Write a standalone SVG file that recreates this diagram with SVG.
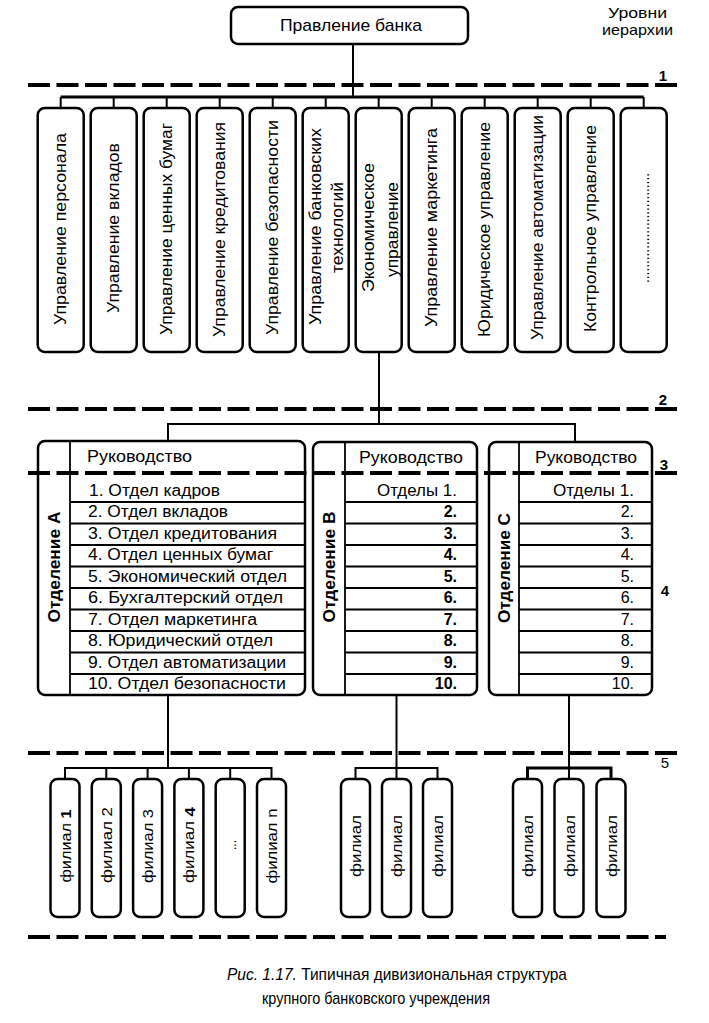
<svg xmlns="http://www.w3.org/2000/svg" width="709" height="1023" viewBox="0 0 709 1023">
<style>
.box{fill:#fff;stroke:#000;stroke-width:2.5}
.ln{stroke:#000;stroke-width:2;fill:none}
.bus{stroke:#000;stroke-width:3;fill:none}
.row{stroke:#000;stroke-width:1.8;fill:none}
.dash{stroke:#000;stroke-width:4;stroke-dasharray:22 6.5;fill:none}
text{font-family:"Liberation Sans",Arial,sans-serif;fill:#000}
.v{font-size:17px;text-anchor:middle;dominant-baseline:central}
.f{font-size:15px;text-anchor:middle;dominant-baseline:central}
.r{font-size:16px}
.e{font-size:16px;text-anchor:end}
.b{font-weight:bold}
.lvl{font-size:15px;font-weight:bold;text-anchor:middle}
</style>
<rect width="709" height="1023" fill="#fff"/>

<!-- nodes -->
<g id="board"><rect class="box" x="231" y="7" width="237" height="37" rx="7"/><text x="351" y="31" font-size="17" text-anchor="middle" textLength="142" lengthAdjust="spacingAndGlyphs">Правление банка</text></g>

<g id="d1"><rect class="box" x="37.7" y="108" width="46" height="244" rx="7"/><text class="v" transform="translate(60.7,229) rotate(-90)" textLength="192" lengthAdjust="spacingAndGlyphs">Управление персонала</text></g>
<g id="d2"><rect class="box" x="90.7" y="108" width="46" height="244" rx="7"/><text class="v" transform="translate(113.7,228) rotate(-90)" textLength="170" lengthAdjust="spacingAndGlyphs">Управление вкладов</text></g>
<g id="d3"><rect class="box" x="143.7" y="108" width="46" height="244" rx="7"/><text class="v" transform="translate(166.7,229) rotate(-90)" textLength="212" lengthAdjust="spacingAndGlyphs">Управление ценных бумаг</text></g>
<g id="d4"><rect class="box" x="196.7" y="108" width="46" height="244" rx="7"/><text class="v" transform="translate(219.7,229.5) rotate(-90)" textLength="215" lengthAdjust="spacingAndGlyphs">Управление кредитования</text></g>
<g id="d5"><rect class="box" x="249.7" y="108" width="46" height="244" rx="7"/><text class="v" transform="translate(272.7,227.5) rotate(-90)" textLength="215" lengthAdjust="spacingAndGlyphs">Управление безопасности</text></g>
<g id="d6"><rect class="box" x="302.7" y="108" width="46" height="244" rx="7"/><text class="v" transform="translate(315,226.5) rotate(-90)" textLength="197" lengthAdjust="spacingAndGlyphs">Управление банковских</text><text class="v" transform="translate(337.5,227.5) rotate(-90)" textLength="91" lengthAdjust="spacingAndGlyphs">технологий</text></g>
<g id="d7"><rect class="box" x="355.7" y="108" width="46" height="244" rx="7"/><text class="v" transform="translate(368,227.5) rotate(-90)" textLength="129" lengthAdjust="spacingAndGlyphs">Экономическое</text><text class="v" transform="translate(392.5,229.5) rotate(-90)" textLength="95" lengthAdjust="spacingAndGlyphs">управление</text></g>
<g id="d8"><rect class="box" x="408.7" y="108" width="46" height="244" rx="7"/><text class="v" transform="translate(431.7,227.5) rotate(-90)" textLength="199" lengthAdjust="spacingAndGlyphs">Управление маркетинга</text></g>
<g id="d9"><rect class="box" x="461.7" y="108" width="46" height="244" rx="7"/><text class="v" transform="translate(484.7,229.5) rotate(-90)" textLength="215" lengthAdjust="spacingAndGlyphs">Юридическое управление</text></g>
<g id="d10"><rect class="box" x="514.7" y="108" width="46" height="244" rx="7"/><text class="v" transform="translate(537.7,227.5) rotate(-90)" textLength="225" lengthAdjust="spacingAndGlyphs">Управление автоматизации</text></g>
<g id="d11"><rect class="box" x="567.7" y="108" width="46" height="244" rx="7"/><text class="v" transform="translate(590.7,228.5) rotate(-90)" textLength="207" lengthAdjust="spacingAndGlyphs">Контрольное управление</text></g>
<g id="d12"><rect class="box" x="620.7" y="108" width="46" height="244" rx="7"/><text class="v" transform="translate(643.7,228) rotate(-90)" textLength="110" lengthAdjust="spacingAndGlyphs">.............................</text></g>

<g id="divA">
<rect class="box" x="38" y="441" width="267" height="254" rx="7"/>
<line class="row" x1="70" y1="441" x2="70" y2="695"/>
<path class="row" d="M70 502H305M70 523.5H305M70 545H305M70 566.5H305M70 588H305M70 609.5H305M70 631H305M70 652.5H305M70 674H305"/>
<text class="v b" font-size="15" transform="translate(54,567) rotate(-90)" textLength="111" lengthAdjust="spacingAndGlyphs">Отделение А</text>
<text class="r" x="87" y="462" textLength="105" lengthAdjust="spacingAndGlyphs">Руководство</text>
<text class="r" x="89" y="496" textLength="131" lengthAdjust="spacingAndGlyphs">1. Отдел кадров</text>
<text class="r" x="88" y="517" textLength="140" lengthAdjust="spacingAndGlyphs">2. Отдел вкладов</text>
<text class="r" x="88" y="538.5" textLength="189" lengthAdjust="spacingAndGlyphs">3. Отдел кредитования</text>
<text class="r" x="88" y="560" textLength="185" lengthAdjust="spacingAndGlyphs">4. Отдел ценных бумаг</text>
<text class="r" x="88" y="581.5" textLength="199" lengthAdjust="spacingAndGlyphs">5. Экономический отдел</text>
<text class="r" x="88" y="603" textLength="195" lengthAdjust="spacingAndGlyphs">6. Бухгалтерский отдел</text>
<text class="r" x="88" y="624.5" textLength="169" lengthAdjust="spacingAndGlyphs">7. Отдел маркетинга</text>
<text class="r" x="88" y="646" textLength="185" lengthAdjust="spacingAndGlyphs">8. Юридический отдел</text>
<text class="r" x="88" y="667.5" textLength="198" lengthAdjust="spacingAndGlyphs">9. Отдел автоматизации</text>
<text class="r" x="88" y="689" textLength="198" lengthAdjust="spacingAndGlyphs">10. Отдел безопасности</text>
</g>

<g id="divB">
<rect class="box" x="313" y="442" width="164" height="253" rx="7"/>
<line class="row" x1="345" y1="442" x2="345" y2="695"/>
<path class="row" d="M345 502H477M345 523.5H477M345 545H477M345 566.5H477M345 588H477M345 609.5H477M345 631H477M345 652.5H477M345 674H477"/>
<text class="v b" font-size="15" transform="translate(329,567) rotate(-90)" textLength="111" lengthAdjust="spacingAndGlyphs">Отделение В</text>
<text class="r" x="359" y="463" textLength="104" lengthAdjust="spacingAndGlyphs">Руководство</text>
<text class="e" x="457" y="496" textLength="80" lengthAdjust="spacingAndGlyphs">Отделы 1.</text>
<g class="b">
<text class="e" x="457" y="517">2.</text>
<text class="e" x="457" y="538.5">3.</text>
<text class="e" x="457" y="560">4.</text>
<text class="e" x="457" y="581.5">5.</text>
<text class="e" x="457" y="603">6.</text>
<text class="e" x="457" y="624.5">7.</text>
<text class="e" x="457" y="646">8.</text>
<text class="e" x="457" y="667.5">9.</text>
<text class="e" x="457" y="689">10.</text>
</g>
</g>

<g id="divC">
<rect class="box" x="489" y="442" width="163" height="253" rx="7"/>
<line class="row" x1="519" y1="442" x2="519" y2="695"/>
<path class="row" d="M519 502H652M519 523.5H652M519 545H652M519 566.5H652M519 588H652M519 609.5H652M519 631H652M519 652.5H652M519 674H652"/>
<text class="v b" font-size="15" transform="translate(504,568) rotate(-90)" textLength="110" lengthAdjust="spacingAndGlyphs">Отделение С</text>
<text class="r" x="535" y="463" textLength="102" lengthAdjust="spacingAndGlyphs">Руководство</text>
<text class="e" x="634" y="496" textLength="81" lengthAdjust="spacingAndGlyphs">Отделы 1.</text>
<text class="e" x="634" y="517">2.</text>
<text class="e" x="634" y="538.5">3.</text>
<text class="e" x="634" y="560">4.</text>
<text class="e" x="634" y="581.5">5.</text>
<text class="e" x="634" y="603">6.</text>
<text class="e" x="634" y="624.5">7.</text>
<text class="e" x="634" y="646">8.</text>
<text class="e" x="634" y="667.5">9.</text>
<text class="e" x="634" y="689">10.</text>
</g>

<g id="fA1"><rect class="box" x="50.5" y="779" width="29" height="138" rx="7"/><text class="f" transform="translate(65,846) rotate(-90)" textLength="73" lengthAdjust="spacingAndGlyphs">филиал <tspan font-weight="bold">1</tspan></text></g>
<g id="fA2"><rect class="box" x="91.8" y="779" width="29" height="138" rx="7"/><text class="f" transform="translate(106.3,845) rotate(-90)" textLength="76" lengthAdjust="spacingAndGlyphs">филиал 2</text></g>
<g id="fA3"><rect class="box" x="133.1" y="779" width="29" height="138" rx="7"/><text class="f" transform="translate(147.6,846) rotate(-90)" textLength="74" lengthAdjust="spacingAndGlyphs">филиал 3</text></g>
<g id="fA4"><rect class="box" x="174.4" y="779" width="29" height="138" rx="7"/><text class="f" transform="translate(188.9,845) rotate(-90)" textLength="76" lengthAdjust="spacingAndGlyphs">филиал <tspan font-weight="bold">4</tspan></text></g>
<g id="fA5"><rect class="box" x="215.7" y="779" width="29" height="138" rx="7"/><text class="f" transform="translate(230.2,845) rotate(-90)" textLength="10" lengthAdjust="spacingAndGlyphs">...</text></g>
<g id="fAn"><rect class="box" x="257" y="779" width="29" height="138" rx="7"/><text class="f" transform="translate(271.5,846) rotate(-90)" textLength="75" lengthAdjust="spacingAndGlyphs">филиал n</text></g>
<g id="fB1"><rect class="box" x="341" y="779" width="29" height="138" rx="7"/><text class="f" transform="translate(355.5,846) rotate(-90)" textLength="62" lengthAdjust="spacingAndGlyphs">филиал</text></g>
<g id="fB2"><rect class="box" x="382" y="779" width="29" height="138" rx="7"/><text class="f" transform="translate(396.5,846) rotate(-90)" textLength="62" lengthAdjust="spacingAndGlyphs">филиал</text></g>
<g id="fB3"><rect class="box" x="423" y="779" width="29" height="138" rx="7"/><text class="f" transform="translate(437.5,846) rotate(-90)" textLength="62" lengthAdjust="spacingAndGlyphs">филиал</text></g>
<g id="fC1"><rect class="box" x="513" y="779" width="29" height="138" rx="7"/><text class="f" transform="translate(527.5,846) rotate(-90)" textLength="62" lengthAdjust="spacingAndGlyphs">филиал</text></g>
<g id="fC2"><rect class="box" x="554.5" y="779" width="29" height="138" rx="7"/><text class="f" transform="translate(569,846) rotate(-90)" textLength="62" lengthAdjust="spacingAndGlyphs">филиал</text></g>
<g id="fC3"><rect class="box" x="596.5" y="779" width="29" height="138" rx="7"/><text class="f" transform="translate(611,846) rotate(-90)" textLength="62" lengthAdjust="spacingAndGlyphs">филиал</text></g>

<!-- connectors -->
<g id="connectors">
<line class="ln" x1="353" y1="44" x2="353" y2="97"/>
<line class="bus" x1="60.7" y1="97" x2="643.7" y2="97"/>
<path class="ln" d="M60.7 97V108M113.7 97V108M166.7 97V108M219.7 97V108M272.7 97V108M325.7 97V108M378.7 97V108M431.7 97V108M484.7 97V108M537.7 97V108M590.7 97V108M643.7 97V108"/>
<line class="ln" x1="379" y1="352" x2="379" y2="424"/>
<path class="ln" d="M168 441V424H575V442"/>
<line class="ln" x1="168" y1="695" x2="168" y2="768"/>
<path class="ln" d="M65 779V768H271.5V779M106.3 768V779M147.6 768V779M188.9 768V779M230.2 768V779"/>
<line class="ln" x1="396.5" y1="695" x2="396.5" y2="779"/>
<path class="ln" d="M355.5 779V768H437.5V779"/>
<line class="ln" x1="569" y1="695" x2="569" y2="779"/>
<path class="bus" d="M527.5 779V768H611V779"/>
</g>

<!-- hierarchy levels -->
<g id="levels">
<text x="637.5" y="18" font-size="15" text-anchor="middle" textLength="59" lengthAdjust="spacingAndGlyphs">Уровни</text>
<text x="637.5" y="35" font-size="15" text-anchor="middle" textLength="71" lengthAdjust="spacingAndGlyphs">иерархии</text>
<line class="dash" x1="28" y1="85" x2="677" y2="85"/>
<line class="dash" x1="28" y1="409" x2="677" y2="409"/>
<line class="dash" x1="28" y1="473" x2="677" y2="473"/>
<line class="dash" x1="28" y1="753" x2="677" y2="753"/>
<line class="dash" x1="28" y1="937" x2="666" y2="937"/>
<text class="lvl" x="663" y="81">1</text>
<text class="lvl" x="663" y="405">2</text>
<text class="lvl" x="664" y="470">3</text>
<text class="lvl" x="665" y="596">4</text>
<text x="665" y="768" font-size="15" text-anchor="middle">5</text>
</g>

<g id="caption">
<text x="227" y="980" font-size="17" textLength="340" lengthAdjust="spacingAndGlyphs"><tspan font-style="italic">Рис. 1.17.</tspan> Типичная дивизиональная структура</text>
<text x="262" y="1004" font-size="17" textLength="228" lengthAdjust="spacingAndGlyphs">крупного банковского учреждения</text>
</g>
</svg>
